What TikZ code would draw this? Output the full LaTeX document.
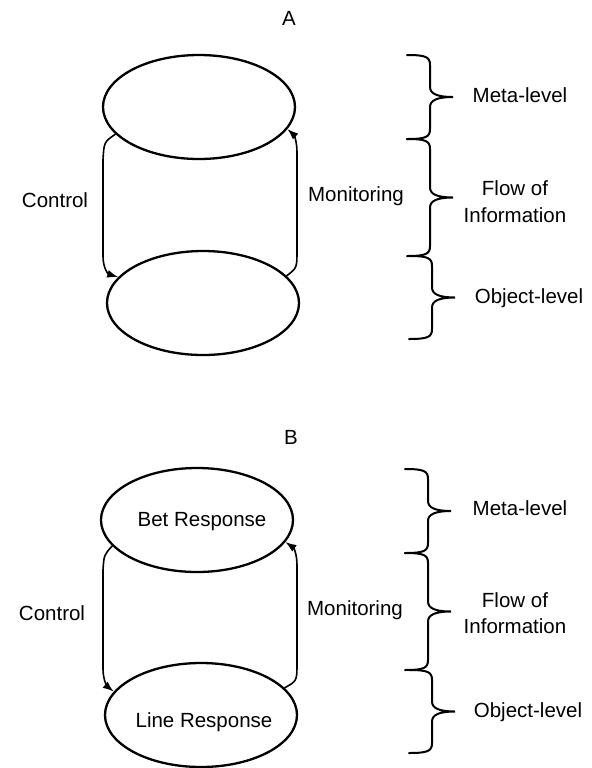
\documentclass[tikz,border=0pt]{standalone}
\usepackage{fontspec}
\setmainfont{Liberation Sans}
\usetikzlibrary{shapes.geometric,arrows.meta}

% One brace of the level chain: left x, top y, bottom y
\newcommand{\levelbrace}[3]{%
  \draw[curly] (#1,#2) .. controls (#1+19,#2) and (#1+23,#2+2) .. (#1+23,#2+10)
    -- (#1+23,{(#2+#3)/2-10})
    .. controls (#1+23,{(#2+#3)/2-3}) and (#1+31,{(#2+#3)/2}) .. (#1+46,{(#2+#3)/2})
    .. controls (#1+31,{(#2+#3)/2}) and (#1+23,{(#2+#3)/2+3}) .. (#1+23,{(#2+#3)/2+10})
    -- (#1+23,#3-10) .. controls (#1+23,#3-2) and (#1+19,#3) .. (#1,#3);
}

\tikzset{
  level/.style={ellipse, draw, line width=1.15pt, inner sep=0pt,
                minimum width=96pt, minimum height=52pt},
  flow/.style={line width=0.8pt, -{Latex[length=5.5pt,width=4pt]}},
  lbl/.style={font=\fontsize{10.25}{12}\selectfont, inner sep=0pt, anchor=base},
  curly/.style={line width=1pt, line cap=round},
}

\begin{document}
\begin{tikzpicture}[x=0.5pt, y=-0.5pt]
\useasboundingbox (0,0) rectangle (592,768);

% ---------- Panel A ----------
\node[lbl] (ttlA) at (289,25) {A};
\node[level] (topA) at (199,107) {};
\node[level] (botA) at (203,303) {};

\draw[flow] (topA.198) .. controls (104,142) .. (103,160) -- (103,256)
  .. controls (103,268) and (108,274) .. (botA.163);
\draw[flow] (botA.18) .. controls (297,268) .. (297,250) -- (297,152)
  .. controls (297,142) and (294,135) .. (topA.-14);

\node[lbl] (ctlA) at (55,207) {Control};
\node[lbl] (monA) at (356,201) {Monitoring};

\levelbrace{407}{55}{139}
\levelbrace{407}{139}{256}
\levelbrace{409}{256}{339}

\node[lbl] (metaA) at (520,102) {Meta-level};
\node[lbl] (flowA) at (515,195) {Flow of};
\node[lbl] (infoA) at (515,222) {Information};
\node[lbl] (objA) at (529,303) {Object-level};

% ---------- Panel B ----------
\node[lbl] (ttlB) at (291,444) {B};
\node[level, label={[lbl, xshift=2.5pt, yshift=-1pt]center:Bet Response}] (topB) at (197,520) {};
\node[level, label={[lbl, xshift=1.5pt, yshift=-3.5pt]center:Line Response}] (botB) at (201,715) {};

\draw[flow] (topB.197) .. controls (104,555) .. (103,570) -- (103,669)
  .. controls (103,681) and (108,687) .. (botB.165);
\draw[flow] (botB.18) .. controls (297,681) .. (297,663) -- (297,565)
  .. controls (297,555) and (294,548) .. (topB.-14);

\node[lbl] (ctlB) at (52,620) {Control};
\node[lbl] (monB) at (355,615) {Monitoring};

\levelbrace{405}{469}{553}
\levelbrace{405}{553}{670}
\levelbrace{409}{670}{753}

\node[lbl] (metaB) at (520,515) {Meta-level};
\node[lbl] (flowB) at (515,607) {Flow of};
\node[lbl] (infoB) at (515,633) {Information};
\node[lbl] (objB) at (528,717) {Object-level};
\end{tikzpicture}
\end{document}
